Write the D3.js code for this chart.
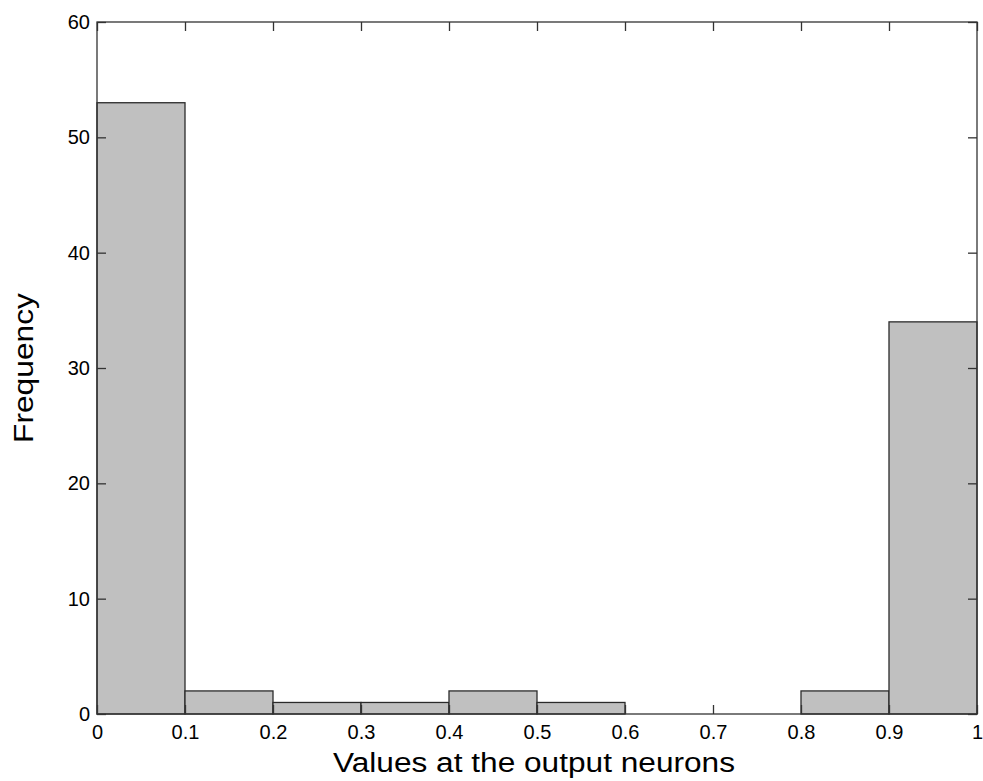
<!DOCTYPE html>
<html>
<head>
<meta charset="utf-8">
<script src="https://cdn.jsdelivr.net/npm/d3@7"></script>
<style>
  body { margin: 0; background: #fff; }
  text { font-family: "Liberation Sans", Arial, sans-serif; }
</style>
</head>
<body>
<div id="vis"></div>
<script>
// histogram bins (left edges) and counts
const binEdges = [0, 0.1, 0.2, 0.3, 0.4, 0.5, 0.6, 0.7, 0.8, 0.9, 1.0];
const counts = [53, 2, 1, 1, 2, 1, 0, 0, 2, 34];
const xTicks = [0, 0.1, 0.2, 0.3, 0.4, 0.5, 0.6, 0.7, 0.8, 0.9, 1];
const yTicks = [0, 10, 20, 30, 40, 50, 60];

const width = 983;
const height = 781;
const margin = { top: 22, right: 6, bottom: 67, left: 97 };
const tickLen = 9;
const axisColor = "#333";

const svg = d3.select("#vis")
  .append("svg")
  .attr("width", width)
  .attr("height", height);

const x = d3.scaleLinear()
  .domain([0, 1])
  .range([margin.left, width - margin.right]);

const y = d3.scaleLinear()
  .domain([0, 60])
  .range([height - margin.bottom, margin.top]);

const bins = counts.map((c, i) => ({ x0: binEdges[i], x1: binEdges[i + 1], count: c }));

// Bars
svg.append("g")
  .selectAll("rect")
  .data(bins.filter(d => d.count > 0))
  .enter()
  .append("rect")
  .attr("x", d => x(d.x0))
  .attr("y", d => y(d.count))
  .attr("width", d => x(d.x1) - x(d.x0))
  .attr("height", d => y(0) - y(d.count))
  .attr("fill", "#c0c0c0")
  .attr("stroke", "#2b2b2b")
  .attr("stroke-width", 1.3);

// Box + inward ticks (MATLAB style)
function styleAxis(g) {
  g.attr("font-size", 20).attr("font-family", '"Liberation Sans", Arial, sans-serif');
  g.select(".domain").remove();
  g.selectAll("line").attr("stroke", axisColor).attr("stroke-width", 1.3);
  g.selectAll("text").attr("fill", "#000");
}

svg.append("g")
  .attr("transform", `translate(0,${y(0)})`)
  .call(d3.axisBottom(x).tickValues(xTicks).tickFormat(d3.format("")).tickSizeInner(-tickLen).tickPadding(11))
  .call(styleAxis);

svg.append("g")
  .attr("transform", `translate(0,${y(60)})`)
  .call(d3.axisTop(x).tickValues(xTicks).tickFormat("").tickSizeInner(-tickLen))
  .call(styleAxis);

svg.append("g")
  .attr("transform", `translate(${x(0)},0)`)
  .call(d3.axisLeft(y).tickValues(yTicks).tickSizeInner(-tickLen).tickPadding(7))
  .call(styleAxis);

svg.append("g")
  .attr("transform", `translate(${x(1)},0)`)
  .call(d3.axisRight(y).tickValues(yTicks).tickFormat("").tickSizeInner(-tickLen))
  .call(styleAxis);

svg.append("rect")
  .attr("x", x(0))
  .attr("y", y(60))
  .attr("width", x(1) - x(0))
  .attr("height", y(0) - y(60))
  .attr("fill", "none")
  .attr("stroke", axisColor)
  .attr("stroke-width", 1.3);

// Axis labels
svg.append("text")
  .attr("x", 534)
  .attr("y", 772)
  .attr("text-anchor", "middle")
  .attr("font-size", "27px")
  .attr("textLength", 402)
  .attr("lengthAdjust", "spacingAndGlyphs")
  .attr("fill", "#000")
  .text("Values at the output neurons");

svg.append("text")
  .attr("transform", `translate(33,${(y(0) + y(60)) / 2}) rotate(-90)`)
  .attr("text-anchor", "middle")
  .attr("font-size", "27px")
  .attr("textLength", 150)
  .attr("lengthAdjust", "spacingAndGlyphs")
  .attr("fill", "#000")
  .text("Frequency");
</script>
</body>
</html>
